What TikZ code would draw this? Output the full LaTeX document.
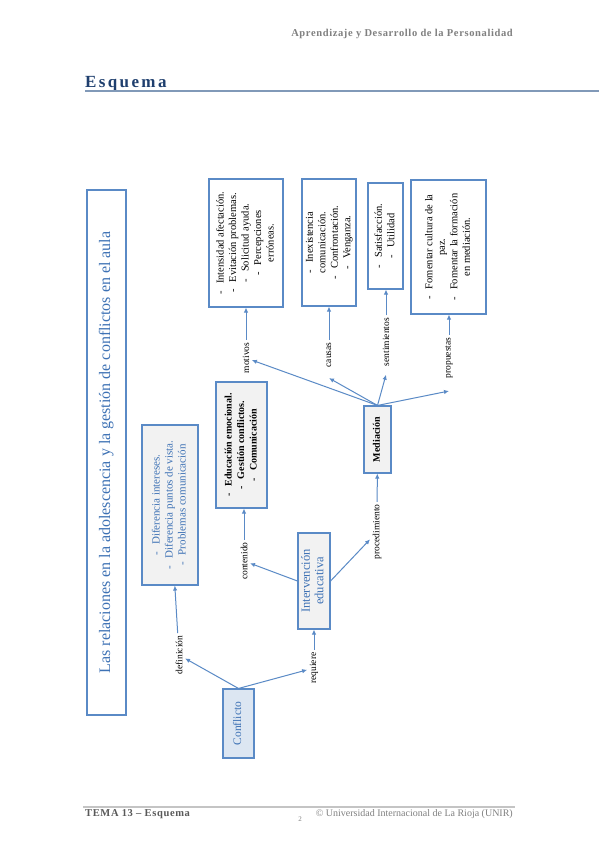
\documentclass[tikz,border=0pt]{standalone}
\usepackage{fontspec}
\setmainfont{Liberation Serif}
\newfontfamily\esqfont[LetterSpace=14]{Liberation Serif}
\newfontfamily\hdrfont[LetterSpace=6]{Liberation Serif}
\usetikzlibrary{arrows.meta}
\definecolor{bord}{HTML}{5A8AC6}
\definecolor{arrc}{HTML}{5A8AC6}
\definecolor{fillg}{HTML}{F2F2F2}
\definecolor{fillb}{HTML}{DCE6F2}
\definecolor{bluetxt}{HTML}{3E72B5}
\definecolor{esqc}{HTML}{1F3F6E}
\definecolor{rulec}{HTML}{8199B8}
\definecolor{greytxt}{HTML}{808080}
\definecolor{footline}{HTML}{C4C4C4}
\newcommand\rt[1]{\rotatebox{90}{\begin{tabular}{@{}c@{}}#1\end{tabular}}}
\newcommand\dsh{-\hspace{7pt}}
\begin{document}
\begin{tikzpicture}[x=1pt,y=-1pt,
  bx/.style={draw=bord, line width=1.1pt, inner sep=0pt, anchor=center},
  gbox/.style={bx, fill=fillg},
  wbox/.style={bx, fill=white},
  lbl/.style={inner sep=2.5pt, font=\fontsize{9.5}{11}\selectfont},
  small/.style={font=\fontsize{10.5}{12.5}\selectfont},
  arr/.style={draw=arrc, line width=1pt, -{Latex[length=5pt,width=4.5pt]}}]
\useasboundingbox (0,0) rectangle (599,848);
\fill[white] (0,0) rectangle (599,848);
% header
\node[anchor=base east, inner sep=0pt, text=greytxt, font=\hdrfont\bfseries\fontsize{10.5}{12}\selectfont] (hdr) at (513,37) {Aprendizaje y Desarrollo de la Personalidad};
\node[anchor=base west, inner sep=0pt, text=esqc, font=\esqfont\bfseries\fontsize{17}{20}\selectfont] (esq) at (85,88) {Esquema};
\draw[rulec, line width=2pt] (85,91.5) -- (599,91.5);
% footer
\draw[footline, line width=1.5pt] (83,807) -- (515,807);
\node[anchor=base west, inner sep=0pt, text=black!65, font=\hdrfont\bfseries\fontsize{10.5}{12}\selectfont] (tema) at (85,816) {TEMA 13 – Esquema};
\node[anchor=base, inner sep=0pt, text=greytxt, font=\fontsize{7}{8}\selectfont] (pg) at (300,821) {2};
\node[anchor=base east, inner sep=0pt, text=greytxt, font=\fontsize{10}{12}\selectfont] (unir) at (513,816) {© Universidad Internacional de La Rioja (UNIR)};
% title box
\node[wbox, minimum width=39pt, minimum height=525pt, text=bluetxt, font=\fontsize{16}{18}\selectfont] (title) at (106.5,452.5) {\rt{Las relaciones en la adolescencia y la gestión de conflictos en el aula}};
% boxes
\node[gbox, minimum width=56pt, minimum height=160pt, text=bluetxt, font=\fontsize{11}{13}\selectfont] (dif) at (170,505) {\rt{\dsh Diferencia intereses.\\ \dsh Diferencia puntos de vista.\\ \dsh Problemas comunicación}};
\node[wbox, minimum width=74pt, minimum height=128pt, small] (int) at (246,243) {\rt{\dsh Intensidad afectación.\\ \dsh Evitación problemas.\\ \dsh Solicitud ayuda.\\ \dsh Percepciones\\ erróneas.}};
\node[wbox, minimum width=54pt, minimum height=127pt, small] (inex) at (329,242.5) {\rt{\dsh Inexistencia\\ comunicación.\\ \dsh Confrontación.\\ \dsh Venganza.}};
\node[wbox, minimum width=35pt, minimum height=106pt, small] (sat) at (385.5,236) {\rt{\dsh Satisfacción.\\ \dsh Utilidad}};
\node[wbox, minimum width=75pt, minimum height=134pt, small] (fom) at (448.5,247) {\rt{\dsh Fomentar cultura de la\\ paz.\\ \dsh Fomentar la formación\\ en mediación.}};
\node[gbox, minimum width=51pt, minimum height=126pt, font=\bfseries\fontsize{10}{12.5}\selectfont] (edu) at (241.5,445) {\rt{\dsh Educación emocional.\\ \dsh Gestión conflictos.\\ \dsh Comunicación}};
\node[gbox, minimum width=27pt, minimum height=67pt, font=\bfseries\fontsize{10}{12}\selectfont] (med) at (377.5,439.5) {\rt{Mediación}};
\node[gbox, minimum width=32pt, minimum height=96pt, text=bluetxt, font=\fontsize{12.5}{13.5}\selectfont] (intv) at (314,581) {\rt{Intervención\\ educativa}};
\node[bx, fill=fillb, minimum width=31pt, minimum height=69pt, text=bluetxt, font=\fontsize{11.5}{13}\selectfont] (conf) at (238.5,723.5) {\rt{Conflicto}};
% labels
\node[lbl] (mot) at (246,358) {\rotatebox{90}{motivos}};
\node[lbl] (cau) at (329,355) {\rotatebox{90}{causas}};
\node[lbl] (sen) at (386,342) {\rotatebox{90}{sentimientos}};
\node[lbl] (pro) at (449,358) {\rotatebox{90}{propuestas}};
\node[lbl] (proc) at (377,532) {\rotatebox{90}{procedimiento}};
\node[lbl] (cont) at (244,561) {\rotatebox{90}{contenido}};
\node[lbl] (def) at (179,655) {\rotatebox{90}{definición}};
\node[lbl] (req) at (314,668) {\rotatebox{90}{requiere}};
% connectors
\draw[arr] (conf.north) -- (def);
\draw[arr] (conf.north) -- (req);
\draw[arr] (req) -- (intv);
\draw[arr] (def) -- (dif);
\draw[arr] (intv.west) -- (cont);
\draw[arr] (intv.east) -- (proc);
\draw[arr] (cont.north) -- (cont.north |- edu.south);
\draw[arr] (proc) -- (med);
\draw[arr] (med.north) -- (mot);
\draw[arr] (med.north) -- ([yshift=-8pt]cau.south);
\draw[arr] (med.north) -- ([yshift=-6pt]sen.south);
\draw[arr] (med.north) -- ([yshift=-10pt]pro.south);
\draw[arr] (mot.north) -- (mot.north |- int.south);
\draw[arr] (cau.north) -- (cau.north |- inex.south);
\draw[arr] (sen.north) -- (sen.north |- sat.south);
\draw[arr] (pro.north) -- (pro.north |- fom.south);
\end{tikzpicture}
\end{document}
